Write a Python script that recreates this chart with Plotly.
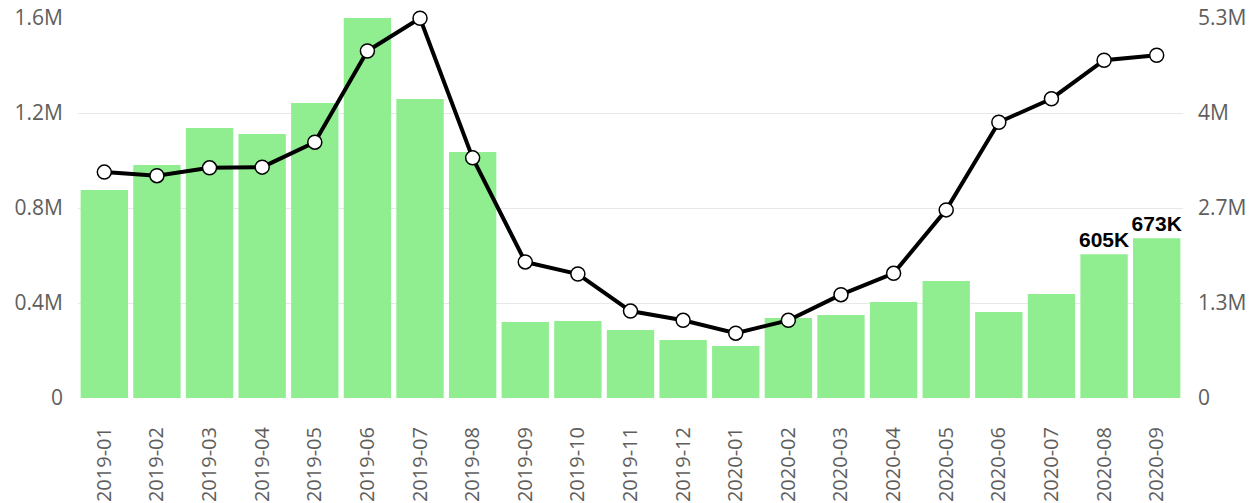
import plotly.graph_objects as go

months = ["2019-01","2019-02","2019-03","2019-04","2019-05","2019-06","2019-07","2019-08",
          "2019-09","2019-10","2019-11","2019-12","2020-01","2020-02","2020-03","2020-04",
          "2020-05","2020-06","2020-07","2020-08","2020-09"]
bar_values = [876e3, 981e3, 1137e3, 1112e3, 1242e3, 1600e3, 1259e3, 1036e3,
              320e3, 324e3, 286e3, 244e3, 219e3, 337e3, 349e3, 404e3,
              493e3, 362e3, 438e3, 605e3, 673e3]
bar_labels = [""] * 19 + ["605K", "673K"]
line_values = [3.17e6, 3.12e6, 3.23e6, 3.24e6, 3.59e6, 4.87e6, 5.33e6, 3.37e6,
               1.91e6, 1.74e6, 1.22e6, 1.09e6, 0.91e6, 1.09e6, 1.45e6, 1.75e6,
               2.64e6, 3.87e6, 4.20e6, 4.74e6, 4.81e6]
left_ticks = [0, 0.4e6, 0.8e6, 1.2e6, 1.6e6]
left_tick_text = ["0", "0.4M", "0.8M", "1.2M", "1.6M"]
right_ticks = [0, 5.333e6/4, 5.333e6/2, 5.333e6*3/4, 5.333e6]
right_tick_text = ["0", "1.3M", "2.7M", "4M", "5.3M"]

tick_font = dict(family="Open Sans, Segoe UI, sans-serif", size=21, color="#605E5C")

fig = go.Figure()
fig.add_trace(go.Bar(
    x=months, y=bar_values, marker=dict(color="#90EE90", line=dict(width=0)),
    text=bar_labels, textposition="outside", cliponaxis=False, constraintext="none",
    textfont=dict(family="Arial, Liberation Sans, sans-serif", size=21, color="black", weight="bold"),
    yaxis="y", showlegend=False, hoverinfo="skip",
))
fig.add_trace(go.Scatter(
    x=months, y=line_values, mode="lines+markers",
    line=dict(color="black", width=4),
    marker=dict(size=14, color="white", line=dict(color="black", width=1.5)),
    yaxis="y2", showlegend=False, cliponaxis=False, hoverinfo="skip",
))

fig.update_layout(
    width=1251, height=503,
    margin=dict(l=78, r=68, t=18, b=105),
    plot_bgcolor="white", paper_bgcolor="white",
    bargap=0.1,
    xaxis=dict(
        type="category", range=[-0.5, len(months) - 0.5], tickangle=-90,
        tickfont=dict(tick_font, size=20),
        showgrid=False, showline=False, zeroline=False, ticks="",
        ticklabelstandoff=24, automargin=False, ticklabeloverflow="allow",
    ),
    yaxis=dict(
        range=[0, 1.6e6], tickvals=left_ticks, ticktext=left_tick_text,
        tickfont=tick_font, showgrid=True, gridcolor="#E8E8E8", gridwidth=1,
        zeroline=False, showline=False, ticklabelstandoff=14, automargin=False,
        ticklabeloverflow="allow",
    ),
    yaxis2=dict(
        range=[0, 5.333e6], tickvals=right_ticks, ticktext=right_tick_text,
        tickfont=tick_font, overlaying="y", side="right", showgrid=False,
        zeroline=False, showline=False, ticklabelstandoff=14, automargin=False,
        ticklabeloverflow="allow",
    ),
)

fig.write_html(
    "out.html",
    config={"displayModeBar": False},
    post_script="document.body.style.margin='0';document.body.style.overflow='hidden';",
)
